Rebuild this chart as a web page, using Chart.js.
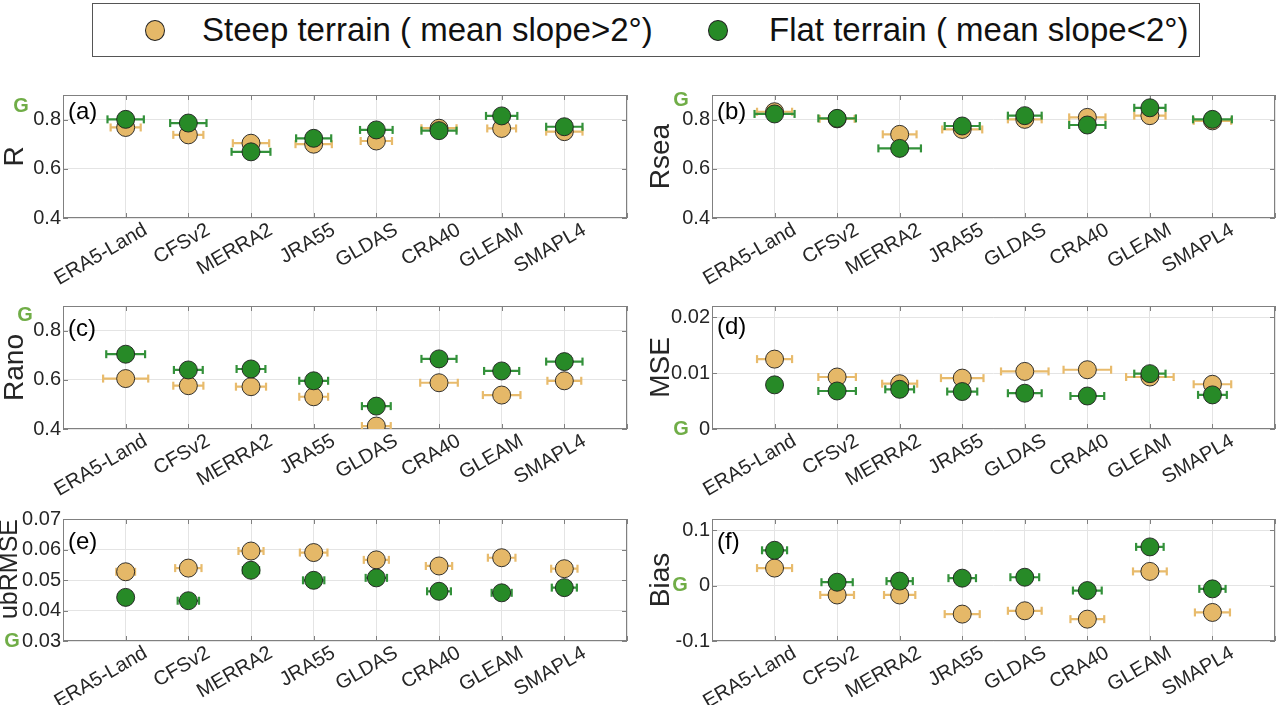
<!DOCTYPE html>
<html>
<head>
<meta charset="utf-8">
<script src="https://cdn.jsdelivr.net/npm/chart.js@4.4.1/dist/chart.umd.min.js"></script>
<style>
    body { margin: 0; background: #fff; width: 1287px; height: 705px; position: relative; overflow: hidden; font-family: "Liberation Sans", Arial, sans-serif; }
    .panel { position: absolute; }
    #legend { position: absolute; left: 92px; top: 3px; width: 1108px; height: 54px; box-sizing: border-box; border: 1.5px solid #555; }
    #legend .dot { position: absolute; top: 16px; width: 20px; height: 21px; border-radius: 50%; box-sizing: border-box; border: 1px solid #222; }
    #legend .txt { position: absolute; top: 0; line-height: 52px; font-size: 33px; color: #111; white-space: nowrap; }
</style>
</head>
<body>
<div id="legend">
    <div class="dot" style="left:52px;background:#e5b868"></div>
    <div class="txt" style="left:109px">Steep terrain ( mean slope&gt;2°)</div>
    <div class="dot" style="left:615px;background:#278a27"></div>
    <div class="txt" style="left:676px">Flat terrain ( mean slope&lt;2°)</div>
</div>
<script>
const cats = ['ERA5-Land', 'CFSv2', 'MERRA2', 'JRA55', 'GLDAS', 'CRA40', 'GLEAM', 'SMAPL4'];

// (a) R
const rSteep = [0.768, 0.738, 0.704, 0.700, 0.713, 0.765, 0.764, 0.751];
const rSteepErr = [0.24, 0.24, 0.29, 0.29, 0.25, 0.28, 0.23, 0.29];
const rFlat = [0.801, 0.786, 0.669, 0.724, 0.758, 0.755, 0.815, 0.771];
const rFlatErr = [0.29, 0.29, 0.31, 0.28, 0.26, 0.28, 0.25, 0.29];
// (b) Rsea
const rseaSteep = [0.832, 0.803, 0.740, 0.760, 0.801, 0.809, 0.816, 0.795];
const rseaSteepErr = [0.28, 0.28, 0.27, 0.32, 0.27, 0.29, 0.25, 0.30];
const rseaFlat = [0.823, 0.805, 0.683, 0.774, 0.816, 0.778, 0.848, 0.801];
const rseaFlatErr = [0.32, 0.30, 0.34, 0.28, 0.27, 0.29, 0.25, 0.31];
// (c) Rano
const ranoSteep = [0.605, 0.576, 0.572, 0.531, 0.412, 0.588, 0.538, 0.596];
const ranoSteepErr = [0.36, 0.24, 0.24, 0.23, 0.23, 0.30, 0.30, 0.27];
const ranoFlat = [0.704, 0.640, 0.644, 0.596, 0.493, 0.685, 0.636, 0.674];
const ranoFlatErr = [0.31, 0.23, 0.23, 0.23, 0.23, 0.28, 0.28, 0.29];
// (d) MSE
const mseSteep = [0.0125, 0.0093, 0.0081, 0.0091, 0.0103, 0.0106, 0.0093, 0.0080];
const mseSteepErr = [0.28, 0.30, 0.28, 0.34, 0.38, 0.38, 0.38, 0.30];
const mseFlat = [0.0079, 0.0068, 0.0071, 0.0067, 0.0064, 0.0059, 0.0099, 0.0061];
const mseFlatErr = [0.11, 0.30, 0.23, 0.24, 0.27, 0.27, 0.25, 0.23];
// (e) ubRMSE
const ubSteep = [0.0527, 0.0539, 0.0595, 0.0590, 0.0566, 0.0546, 0.0573, 0.0537];
const ubSteepErr = [0.15, 0.21, 0.20, 0.22, 0.20, 0.21, 0.22, 0.21];
const ubFlat = [0.0443, 0.0432, 0.0532, 0.0499, 0.0507, 0.0463, 0.0458, 0.0475];
const ubFlatErr = [0.10, 0.17, 0.13, 0.17, 0.17, 0.19, 0.16, 0.20];
// (f) Bias
const biasSteep = [0.0315, -0.017, -0.017, -0.0515, -0.0455, -0.0606, 0.0255, -0.0485];
const biasSteepErr = [0.28, 0.27, 0.25, 0.28, 0.27, 0.27, 0.27, 0.28];
const biasFlat = [0.0636, 0.006, 0.008, 0.0133, 0.015, -0.009, 0.0697, -0.006];
const biasFlatErr = [0.20, 0.25, 0.21, 0.22, 0.23, 0.23, 0.22, 0.21];

// y ticks
const rTicks = [0.4, 0.6, 0.8];
const rTickLabels = ['0.4', '0.6', '0.8'];
const mseTicks = [0, 0.01, 0.02];
const mseTickLabels = ['0', '0.01', '0.02'];
const ubTicks = [0.03, 0.04, 0.05, 0.06, 0.07];
const ubTickLabels = ['0.03', '0.04', '0.05', '0.06', '0.07'];
const biasTicks = [-0.1, 0, 0.1];
const biasTickLabels = ['-0.1', '0', '0.1'];

const STEEP = '#e5b868', STEEP_BAR = '#e8bb6c', FLAT = '#278a27', FLAT_BAR = '#33913a';
const FONT = '"Liberation Sans", Arial, sans-serif';

const boxPlugin = {
    id: 'box',
    beforeDatasetsDraw(chart) {
        const { ctx, chartArea: a, scales: { x, y } } = chart;
        ctx.save();
        ctx.strokeStyle = '#808080'; ctx.lineWidth = 1;
        ctx.strokeRect(a.left + 0.5, a.top + 0.5, a.width - 1, a.height - 1);
        ctx.beginPath();
        x.ticks.forEach(t => { const p = Math.round(x.getPixelForValue(t.value)) + 0.5; ctx.moveTo(p, a.bottom); ctx.lineTo(p, a.bottom - 5); ctx.moveTo(p, a.top); ctx.lineTo(p, a.top + 5); });
        y.ticks.forEach(t => { const p = Math.round(y.getPixelForValue(t.value)) + 0.5; ctx.moveTo(a.left, p); ctx.lineTo(a.left + 5, p); ctx.moveTo(a.right, p); ctx.lineTo(a.right - 5, p); });
        ctx.stroke();
        ctx.restore();
    }
};

const notePlugin = {
    id: 'notes',
    afterDraw(chart, args, o) {
        const { ctx, chartArea: a, scales: { y } } = chart;
        ctx.save();
        ctx.textBaseline = 'middle';
        ctx.font = '24px ' + FONT; ctx.fillStyle = '#000';
        ctx.fillText(o.tag, a.left + 5, a.top + o.tagDy);
        ctx.font = 'bold 20px ' + FONT; ctx.fillStyle = '#70ad47'; ctx.textAlign = 'center';
        ctx.fillText('G', a.left + o.gDx, y.getPixelForValue(o.gVal));
        ctx.restore();
    }
};

function errData(vals, errs) {
    const d = [];
    vals.forEach((v, i) => d.push({ x: i + 1 - errs[i], y: v }, { x: i + 1 + errs[i], y: v }, { x: i + 1, y: null }));
    return d;
}
const pts = vals => vals.map((v, i) => ({ x: i + 1, y: v }));

const markers = (vals, fill) => ({
    data: pts(vals), showLine: false, pointRadius: 9,
    pointBackgroundColor: fill, pointBorderColor: '#1e1e1e', pointBorderWidth: 0.9
});
const bars = (vals, errs, col) => ({
    data: errData(vals, errs), showLine: true, spanGaps: false, borderColor: col, borderWidth: 2.2,
    pointStyle: 'line', pointRotation: 90, pointRadius: 4, pointBorderColor: col, pointBorderWidth: 2.2
});

const LEFT = { left: 0, w: 640, yw: 63, padR: 13 };
const RIGHT = { left: 640, w: 647, yw: 72, padR: 11 };
const ROWS = [{ top: 80, h: 210, padT: 15, xh: 72 }, { top: 290, h: 210, padT: 16, xh: 71 }, { top: 500, h: 205, padT: 19, xh: 64 }];

const panels = [
    { col: LEFT, row: ROWS[0], title: 'R', tPad: 1, steep: rSteep, steepErr: rSteepErr, flat: rFlat, flatErr: rFlatErr, min: 0.4, max: 0.9, ticks: rTicks, labels: rTickLabels, tag: '(a)', tagDy: 17, gDx: -42, gVal: 0.855 },
    { col: RIGHT, row: ROWS[0], title: 'Rsea', tPad: 7, steep: rseaSteep, steepErr: rseaSteepErr, flat: rseaFlat, flatErr: rseaFlatErr, min: 0.4, max: 0.9, ticks: rTicks, labels: rTickLabels, tag: '(b)', tagDy: 17, gDx: -31, gVal: 0.876 },
    { col: LEFT, row: ROWS[1], title: 'Rano', tPad: 1, steep: ranoSteep, steepErr: ranoSteepErr, flat: ranoFlat, flatErr: ranoFlatErr, min: 0.4, max: 0.9, ticks: rTicks, labels: rTickLabels, tag: '(c)', tagDy: 23, gDx: -38, gVal: 0.863 },
    { col: RIGHT, row: ROWS[1], title: 'MSE', tPad: 7, steep: mseSteep, steepErr: mseSteepErr, flat: mseFlat, flatErr: mseFlatErr, min: 0, max: 0.022, ticks: mseTicks, labels: mseTickLabels, tag: '(d)', tagDy: 21, gDx: -31, gVal: 0 },
    { col: LEFT, row: ROWS[2], title: 'ubRMSE', tPad: -2, tSize: 25, tAlign: 'end', steep: ubSteep, steepErr: ubSteepErr, flat: ubFlat, flatErr: ubFlatErr, min: 0.03, max: 0.07, ticks: ubTicks, labels: ubTickLabels, tag: '(e)', tagDy: 23, gDx: -51, gVal: 0.03 },
    { col: RIGHT, row: ROWS[2], title: 'Bias', tPad: 7, steep: biasSteep, steepErr: biasSteepErr, flat: biasFlat, flatErr: biasFlatErr, min: -0.1, max: 0.12, ticks: biasTicks, labels: biasTickLabels, tag: '(f)', tagDy: 23, gDx: -32, gVal: 0 }
];

panels.forEach(p => {
    const div = document.createElement('div');
    div.className = 'panel';
    Object.assign(div.style, { left: p.col.left + 'px', top: p.row.top + 'px', width: p.col.w + 'px', height: p.row.h + 'px' });
    const cv = document.createElement('canvas');
    cv.width = p.col.w; cv.height = p.row.h;
    div.appendChild(cv);
    document.body.appendChild(div);

    new Chart(cv, {
        type: 'scatter',
        data: { datasets: [markers(p.flat, FLAT), bars(p.flat, p.flatErr, FLAT_BAR), markers(p.steep, STEEP), bars(p.steep, p.steepErr, STEEP_BAR)] },
        options: {
            responsive: false, animation: false, events: [],
            layout: { padding: { top: p.row.padT, right: p.col.padR, left: 0, bottom: 0 } },
            plugins: { legend: { display: false }, tooltip: { enabled: false }, notes: { tag: p.tag, tagDy: p.tagDy, gDx: p.gDx, gVal: p.gVal } },
            scales: {
                x: {
                    type: 'linear', min: 0, max: 9,
                    border: { display: false },
                    grid: { color: '#e4e4e4', drawTicks: false },
                    ticks: {
                        stepSize: 1, autoSkip: false, minRotation: 30, maxRotation: 30, padding: 2, labelOffset: 20,
                        color: '#262626', font: { family: FONT, size: 20, lineHeight: 1 },
                        callback: v => cats[v - 1] || ''
                    },
                    afterFit: s => { s.height = p.row.xh; }
                },
                y: {
                    min: p.min, max: p.max,
                    border: { display: false },
                    grid: { color: '#e4e4e4', drawTicks: false },
                    afterBuildTicks: s => { s.ticks = p.ticks.map(v => ({ value: v })); },
                    ticks: {
                        padding: 2, color: '#262626', font: { family: FONT, size: 20, lineHeight: 1 },
                        callback: (v, i) => p.labels[i]
                    },
                    title: {
                        display: true, text: p.title, color: '#262626', align: p.tAlign || 'center',
                        font: { family: FONT, size: p.tSize || 28, lineHeight: 1 }, padding: { top: p.tPad, bottom: 0 }
                    },
                    afterFit: s => { s.width = p.col.yw; }
                }
            }
        },
        plugins: [boxPlugin, notePlugin]
    });
});
</script>
</body>
</html>
